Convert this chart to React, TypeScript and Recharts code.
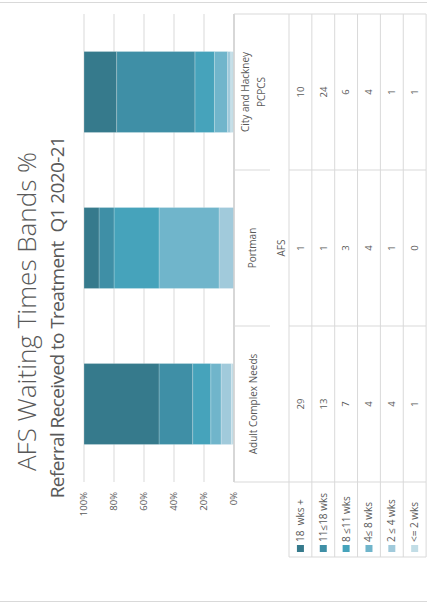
import { BarChart, Bar, XAxis, YAxis, CartesianGrid } from 'recharts';

const categories = ['Adult Complex Needs', 'Portman AFS', 'City and Hackney PCPCS'];
const categoryLines = [['Adult Complex Needs'], ['Portman', 'AFS'], ['City and Hackney', 'PCPCS']];
const bandNames = ['18  wks +', '11≤18 wks', '8 ≤11 wks', '4≤ 8 wks', '2 ≤ 4 wks', '<= 2 wks'];
const wks18plus = [29, 1, 10];
const wks11to18 = [13, 1, 24];
const wks8to11 = [7, 3, 6];
const wks4to8 = [4, 4, 4];
const wks2to4 = [4, 1, 1];
const wks2orLess = [1, 0, 1];
const yTicks = [0, 0.2, 0.4, 0.6, 0.8, 1];

const bandColors = ['#367a8c', '#3f8fa6', '#46a3bb', '#70b5cb', '#a1cadb', '#c2dde6'];
const bandSeries = [wks18plus, wks11to18, wks8to11, wks4to8, wks2to4, wks2orLess];
const bandKeys = ['b18', 'b11', 'b8', 'b4', 'b2', 'b0'];

const data = categories.map((name, i) => {
  const row: Record<string, string | number> = { name };
  bandKeys.forEach((k, j) => { row[k] = bandSeries[j][i]; });
  return row;
});

// landscape chart, rotated into the portrait frame
const W = 605;
const H = 427;
const LEFT = 123;
const RIGHT = 14;
const TOP = 84;
const XAXIS_H = 193;
const PLOT_BOTTOM = H - XAXIS_H;
const BAND = (W - LEFT - RIGHT) / categories.length;
const HEADER_BOTTOM = 289;
const ROW_H = 22.85;
const LEGEND_LEFT = 48;
const FONT = '"Open Sans", sans-serif';
const GRID = '#d9d9d9';
const TEXT = '#595959';

function TableTick(props: any) {
  const { x, payload } = props;
  const i = payload.index;
  const left = x - BAND / 2;
  const right = x + BAND / 2;
  const tableBottom = HEADER_BOTTOM + ROW_H * bandNames.length;
  const headerY = i === 1 ? [252, 281] : i === 2 ? [245, 261] : [253];
  return (
    <g>
      {i === 0 && (
        <g>
          {bandNames.map((_, k) => (
            <line key={'h' + k} x1={LEGEND_LEFT} x2={W - RIGHT} y1={HEADER_BOTTOM + ROW_H * k} y2={HEADER_BOTTOM + ROW_H * k} stroke={GRID} />
          ))}
          <line x1={LEGEND_LEFT} x2={W - RIGHT} y1={tableBottom} y2={tableBottom} stroke={GRID} />
          <line x1={LEGEND_LEFT} x2={LEGEND_LEFT} y1={HEADER_BOTTOM} y2={tableBottom} stroke={GRID} />
          <line x1={left} x2={left} y1={PLOT_BOTTOM} y2={tableBottom} stroke={GRID} />
          {bandNames.map((n, k) => {
            const cy = HEADER_BOTTOM + ROW_H * k + ROW_H / 2;
            return (
              <g key={'l' + k}>
                <rect x={53} y={cy - 3.5} width={7} height={7} fill={bandColors[k]} />
                <text x={63} y={cy} dy="0.35em" fontSize={10} fill={TEXT} fontFamily={FONT} style={{ whiteSpace: 'pre' }}>{n}</text>
              </g>
            );
          })}
        </g>
      )}
      {i > 0 && (
        <g>
          <line x1={left} x2={left} y1={PLOT_BOTTOM} y2={270} stroke={GRID} />
          <line x1={left} x2={left} y1={HEADER_BOTTOM} y2={tableBottom} stroke={GRID} />
        </g>
      )}
      {i === categories.length - 1 && (
        <line x1={right} x2={right} y1={PLOT_BOTTOM} y2={tableBottom} stroke={GRID} />
      )}
      {categoryLines[i].map((t, k) => (
        <text key={'c' + k} x={x} y={headerY[k]} dy="0.35em" textAnchor="middle" fontSize={10} fill={TEXT} fontFamily={FONT}>{t}</text>
      ))}
      {bandSeries.map((s, k) => (
        <text key={'v' + k} x={x} y={HEADER_BOTTOM + ROW_H * k + ROW_H / 2} dy="0.35em" textAnchor="middle" fontSize={9.5} fill={TEXT} fontFamily={FONT}>{s[i]}</text>
      ))}
    </g>
  );
}

export default function App() {
  return (
    <div style={{ position: 'fixed', left: 0, top: 0, width: H, height: W, overflow: 'hidden', background: '#fff' }}>
      <div
        style={{
          position: 'absolute', left: 0, top: 0, width: W, height: H,
          transformOrigin: '0 0', transform: `translate(0px, ${W}px) rotate(-90deg)`,
        }}
      >
        <div style={{ position: 'absolute', left: 2.5, top: 0, width: 0, height: H, borderLeft: '1.5px solid #d9d9d9' }} />
        <div style={{ position: 'absolute', left: 602, top: 0, width: 0, height: H, borderLeft: '1.5px solid #d9d9d9' }} />
        <div style={{ position: 'absolute', left: -4, width: W - 10, top: 11, textAlign: 'center', fontFamily: FONT, fontWeight: 300, fontSize: 26, color: '#595959', lineHeight: '30px', whiteSpace: 'pre' }}>
          AFS Waiting Times Bands %
        </div>
        <div style={{ position: 'absolute', left: -10, width: W - 10, top: 45, textAlign: 'center', fontFamily: FONT, fontSize: 19, color: '#595959', lineHeight: '24px', letterSpacing: -0.6, whiteSpace: 'pre' }}>
          Referral Received to Treatment  Q1 2020-21
        </div>
        <BarChart
          width={W}
          height={H}
          data={data}
          stackOffset="expand"
          barCategoryGap="24%"
          margin={{ top: TOP, right: RIGHT, left: 0, bottom: 0 }}
          style={{ position: 'absolute', left: 0, top: 0 }}
        >
          <CartesianGrid vertical={false} stroke={GRID} />
          <XAxis
            dataKey="name"
            height={XAXIS_H}
            interval={0}
            tickLine={false}
            tickSize={0}
            axisLine={{ stroke: '#d0d0d0', strokeWidth: 1.5 }}
            tick={<TableTick />}
          />
          <YAxis
            width={LEFT}
            domain={[0, 1]}
            ticks={yTicks}
            axisLine={false}
            tickLine={false}
            tickSize={0}
            tickMargin={10}
            tickFormatter={(v: number) => `${Math.round(v * 100)}%`}
            tick={{ fontSize: 9.5, fill: TEXT, fontFamily: FONT }}
          />
          {bandKeys.slice().reverse().map((k) => {
            const j = bandKeys.indexOf(k);
            return (
              <Bar
                key={k}
                dataKey={k}
                name={bandNames[j]}
                stackId="a"
                fill={bandColors[j]}
                stroke="rgba(255,255,255,0.3)"
                strokeWidth={0.75}
                isAnimationActive={false}
              />
            );
          })}
        </BarChart>
      </div>
    </div>
  );
}
